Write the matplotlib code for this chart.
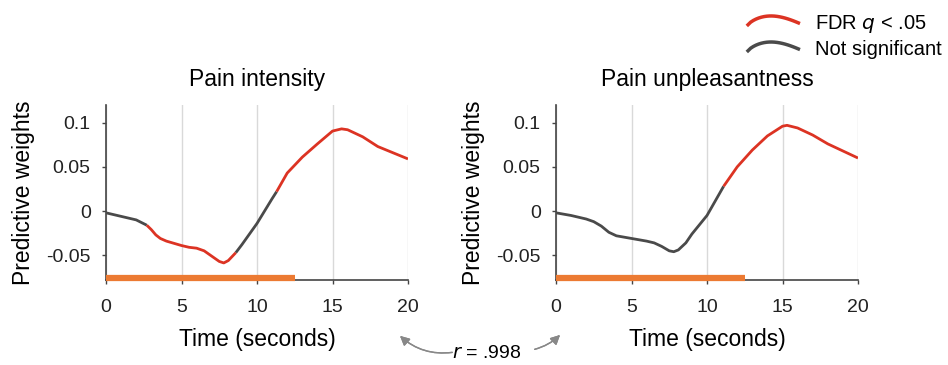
import numpy as np
import matplotlib.pyplot as plt
from matplotlib.legend_handler import HandlerLine2D
from matplotlib.lines import Line2D

plt.rcParams['font.family'] = ['Liberation Sans', 'DejaVu Sans']

# time-course of predictive weights
t_int = [0, 1, 2, 2.7, 3, 3.3, 3.6, 4, 5, 5.5, 6, 6.5, 7, 7.5, 7.8, 8.1, 8.6, 9, 10, 11, 11.3,
         12, 13, 14, 15, 15.6, 16, 17, 18, 19, 20]
w_int = [-0.002, -0.006, -0.010, -0.016, -0.021, -0.027, -0.031, -0.034, -0.039, -0.041,
         -0.042, -0.045, -0.051, -0.057, -0.0587, -0.056, -0.047, -0.038, -0.014, 0.014, 0.022,
         0.043, 0.061, 0.076, 0.0905, 0.093, 0.092, 0.084, 0.073, 0.066, 0.059]
sig_int = [(2.7, 8.6), (11.3, 20)]

t_unp = [0, 1, 2, 2.5, 3, 3.5, 4, 5, 6, 6.5, 7, 7.5, 7.8, 8.1, 8.6, 9, 10, 11, 11.1,
         12, 13, 14, 15, 15.3, 16, 17, 18, 19, 20]
w_unp = [-0.002, -0.005, -0.009, -0.012, -0.017, -0.024, -0.028, -0.031, -0.034, -0.036,
         -0.040, -0.045, -0.046, -0.044, -0.036, -0.026, -0.005, 0.025, 0.028,
         0.050, 0.069, 0.085, 0.096, 0.097, 0.094, 0.086, 0.076, 0.068, 0.060]
sig_unp = [(11.1, 20)]

stim_on = (0, 12.5)  # orange bar = stimulation period
r_val = '.998'

RED = '#dc3323'
GRAY = '#4a4a4a'
ORANGE = '#ec7a32'


def draw_panel(ax, t, w, sig, title):
    t = np.array(t)
    w = np.array(w)
    mids = (t[:-1] + t[1:]) / 2
    is_sig = np.array([any(a <= m <= b for a, b in sig) for m in mids])
    # split into runs of same colour
    start = 0
    for i in range(1, len(mids) + 1):
        if i == len(mids) or is_sig[i] != is_sig[start]:
            ax.plot(t[start:i + 1], w[start:i + 1], color=RED if is_sig[start] else GRAY,
                    lw=2, solid_capstyle='butt', solid_joinstyle='round', zorder=3)
            start = i
    ax.plot(stim_on, [-0.0762, -0.0762], color=ORANGE, lw=4.5, solid_capstyle='butt',
            zorder=4, clip_on=False)
    ax.set_xlim(0, 20)
    ax.set_ylim(-0.078, 0.12)
    ax.set_xticks([0, 5, 10, 15, 20])
    ax.set_yticks([-0.05, 0, 0.05, 0.1])
    ax.set_yticklabels(['-0.05', '0', '0.05', '0.1'])
    ax.grid(axis='x', color='#d9d9d9', lw=1)
    ax.set_axisbelow(True)
    for s in ['top', 'right']:
        ax.spines[s].set_visible(False)
    for s in ['left', 'bottom']:
        ax.spines[s].set_color('#444444')
        ax.spines[s].set_linewidth(1.2)
    ax.tick_params(length=3, width=1, color='#444444', labelsize=14, labelcolor='#222222')
    ax.tick_params(axis='x', pad=11)
    ax.tick_params(axis='y', pad=8)
    ax.set_title(title, fontsize=16.5, pad=14)
    ax.set_xlabel('Time (seconds)', fontsize=16.5, labelpad=8)
    ax.set_ylabel('Predictive weights', fontsize=16.5, labelpad=8)


fig = plt.figure(figsize=(9.48, 3.65), dpi=100)
ax1 = fig.add_axes([106 / 948, 1 - 280 / 365, 302 / 948, 175 / 365])
ax2 = fig.add_axes([556 / 948, 1 - 280 / 365, 302 / 948, 175 / 365])
draw_panel(ax1, t_int, w_int, sig_int, 'Pain intensity')
draw_panel(ax2, t_unp, w_unp, sig_unp, 'Pain unpleasantness')


class ArcHandler(HandlerLine2D):
    def create_artists(self, legend, orig_handle, xdescent, ydescent, width, height, fontsize, trans):
        xs = np.linspace(0, width, 20)
        ys = height * (0.0 + 0.9 * np.sin(np.pi * (0.1 + 0.75 * (xs / width) ** 0.8)))
        ln = Line2D(xs - xdescent, ys - ydescent, color=orig_handle.get_color(), lw=2.5)
        ln.set_transform(trans)
        return [ln]


handles = [Line2D([], [], color=RED), Line2D([], [], color=GRAY)]
fig.legend(handles, ['FDR $\\it{q}$ < .05', 'Not significant'], loc='upper right',
           bbox_to_anchor=(1.012, 1.015), frameon=False, fontsize=14.5, handlelength=2.5,
           handletextpad=0.8, labelspacing=0.25, handler_map={Line2D: ArcHandler()})

fig.text(487 / 948, 1 - 354 / 365, '$\\it{r}$ = ' + r_val, ha='center', va='center', fontsize=14)
arrow = dict(arrowstyle='-|>', color='#888888', lw=1, mutation_scale=14)
fig.add_artist(plt.annotate('', xy=(398 / 948, 1 - 334 / 365), xytext=(455 / 948, 1 - 352 / 365),
                            xycoords='figure fraction', textcoords='figure fraction',
                            arrowprops=dict(connectionstyle='arc3,rad=-0.25', **arrow)))
fig.add_artist(plt.annotate('', xy=(562 / 948, 1 - 333 / 365), xytext=(532 / 948, 1 - 350 / 365),
                            xycoords='figure fraction', textcoords='figure fraction',
                            arrowprops=dict(connectionstyle='arc3,rad=0.15', **arrow)))

fig.savefig('out.png', dpi=100)
